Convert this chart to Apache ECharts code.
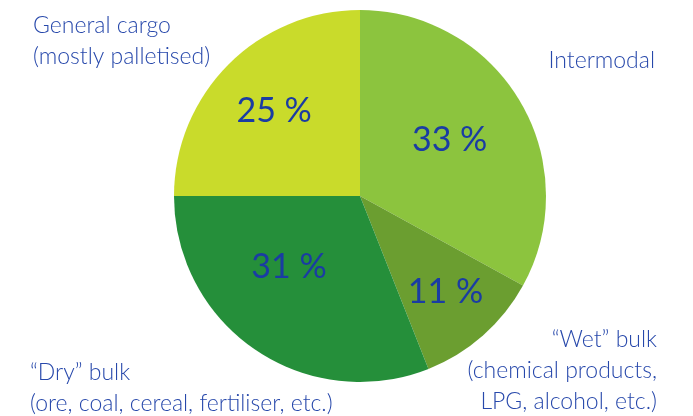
<!DOCTYPE html>
<html>
<head>
<meta charset="utf-8">
<script src="https://cdn.jsdelivr.net/npm/echarts@6/dist/echarts.min.js"></script>
<style>
  html, body { margin: 0; padding: 0; background: #fff; }
  #chart { width: 693px; height: 416px; }
</style>
</head>
<body>
<div id="chart"></div>
<script>
// shares of freight, clockwise from the top
const categories = ['Intermodal', '“Wet” bulk', '“Dry” bulk', 'General cargo']
const subtitles = ['', '(chemical products,\nLPG, alcohol, etc.)', '(ore, coal, cereal, fertiliser, etc.)', '(mostly palletised)']
const shares = [33, 11, 31, 25]

const colors = ['#8cc43e', '#6b9e30', '#258f3a', '#c9db2b']

// nudges for the percent labels, from their default inside spot
const pctNudge = [[7, -7], [22, 24], [-17, -8], [-18, -17]]
// where the category captions sit
const captionSpot = [
  { x: 655, y: 61, align: 'right' },
  { x: 657, y: 371, align: 'right' },
  { x: 30, y: 388, align: 'left' },
  { x: 33, y: 41, align: 'left' },
]

const chart = echarts.init(document.getElementById('chart'))

const pieData = shares.map((v, i) => ({
  value: v,
  name: categories[i],
  itemStyle: { color: colors[i] },
}))

chart.setOption({
  backgroundColor: '#fff',
  animation: false,
  series: [
    {
      type: 'pie',
      center: [360, 196],
      radius: [0, 186],
      startAngle: 90,
      clockwise: true,
      silent: true,
      itemStyle: { borderWidth: 0 },
      label: {
        show: true,
        position: 'inside',
        formatter: '{c} %',
        color: '#1a3ca3',
        fontFamily: 'Lato',
        fontWeight: 400,
        fontSize: 34,
      },
      labelLine: { show: false },
      labelLayout: (p) => ({ dx: pctNudge[p.dataIndex][0], dy: pctNudge[p.dataIndex][1] }),
      data: pieData,
    },
    {
      type: 'pie',
      center: [360, 196],
      radius: [0, 186],
      startAngle: 90,
      clockwise: true,
      silent: true,
      itemStyle: { color: 'transparent', borderWidth: 0 },
      label: {
        show: true,
        position: 'outside',
        overflow: 'none',
        width: 400,
        formatter: (p) => subtitles[p.dataIndex] ? p.name + '\n' + subtitles[p.dataIndex] : p.name,
        color: '#2748ab',
        fontFamily: 'Lato',
        fontWeight: 300,
        fontSize: 23,
        lineHeight: 31,
      },
      labelLine: { show: false },
      labelLayout: (p) => {
        const s = captionSpot[p.dataIndex]
        return { x: s.x, y: s.y, align: s.align, verticalAlign: 'middle' }
      },
      data: shares.map((v, i) => ({ value: v, name: categories[i], itemStyle: { color: 'transparent' } })),
    },
  ],
})
</script>
</body>
</html>
